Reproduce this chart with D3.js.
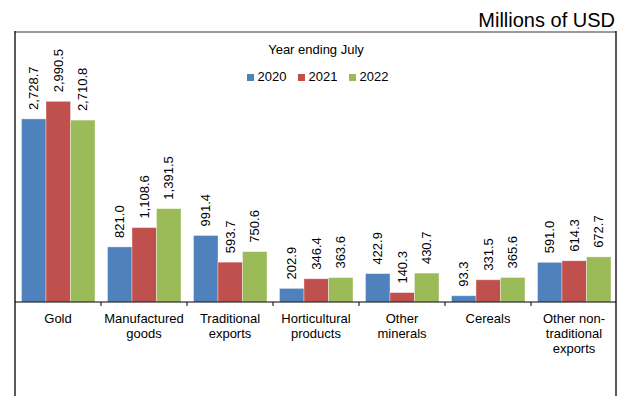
<!DOCTYPE html>
<html>
<head>
<meta charset="utf-8">
<script src="https://cdn.jsdelivr.net/npm/d3@7"></script>
<style>
  body { margin: 0; background: #fff; }
  text { font-family: "Liberation Sans", Arial, sans-serif; fill: #000; }
</style>
</head>
<body>
<svg width="627" height="396"></svg>
<script>
const categories = [
  "Gold",
  "Manufactured goods",
  "Traditional exports",
  "Horticultural products",
  "Other minerals",
  "Cereals",
  "Other non-traditional exports",
];
const categoryLines = [
  ["Gold"],
  ["Manufactured", "goods"],
  ["Traditional", "exports"],
  ["Horticultural", "products"],
  ["Other", "minerals"],
  ["Cereals"],
  ["Other non-", "traditional", "exports"],
];
const years = ["2020", "2021", "2022"];
const values2020 = [2728.7, 821.0, 991.4, 202.9, 422.9, 93.3, 591.0];
const values2021 = [2990.5, 1108.6, 593.7, 346.4, 140.3, 331.5, 614.3];
const values2022 = [2710.8, 1391.5, 750.6, 363.6, 430.7, 365.6, 672.7];
const colors = ["#4f81bd", "#c0504d", "#9bbb59"];

const svg = d3.select("svg");
const width = +svg.attr("width");
const height = +svg.attr("height");

const frame = { left: 15, right: 616, top: 32 };
const baseY = 302;

const series = [values2020, values2021, values2022];
const data = categories.map((c, i) => ({
  category: c,
  lines: categoryLines[i],
  values: years.map((y, j) => ({ year: y, value: series[j][i] })),
}));

const x0 = d3
  .scaleBand()
  .domain(categories)
  .range([frame.left, frame.right + 1]);
const x1 = d3
  .scaleBand()
  .domain(years)
  .range([6.5, x0.bandwidth() - 6]);
const yScale = d3
  .scaleLinear()
  .domain([0, 4000])
  .range([baseY, baseY - 4000 * 0.0671]);
const color = d3.scaleOrdinal().domain(years).range(colors);

// frame
svg.append("line")
  .attr("x1", frame.left).attr("x2", frame.right)
  .attr("y1", frame.top).attr("y2", frame.top)
  .attr("stroke", "#9a9a9a").attr("stroke-width", 2);
svg.append("line")
  .attr("x1", frame.left).attr("x2", frame.left)
  .attr("y1", frame.top - 1).attr("y2", height)
  .attr("stroke", "#000").attr("stroke-width", 1.3);
svg.append("line")
  .attr("x1", frame.right).attr("x2", frame.right)
  .attr("y1", frame.top - 1).attr("y2", height)
  .attr("stroke", "#000").attr("stroke-width", 1.3);

svg.append("text")
  .attr("x", 615)
  .attr("y", 27)
  .attr("text-anchor", "end")
  .style("font-size", "20px")
  .text("Millions of USD");

// bars
const groups = svg
  .selectAll("g.cat")
  .data(data)
  .join("g")
  .attr("class", "cat")
  .attr("transform", (d) => `translate(${x0(d.category)},0)`);

groups
  .selectAll("rect")
  .data((d) => d.values)
  .join("rect")
  .attr("x", (d) => x1(d.year))
  .attr("width", x1.bandwidth())
  .attr("y", (d) => yScale(d.value))
  .attr("height", (d) => baseY - yScale(d.value))
  .attr("fill", (d) => color(d.year))
  .attr("stroke", "rgba(255,255,255,0.45)")
  .attr("stroke-width", 0.8);

groups
  .selectAll("text.val")
  .data((d) => d.values)
  .join("text")
  .attr("class", "val")
  .attr(
    "transform",
    (d) =>
      `translate(${x1(d.year) + x1.bandwidth() / 2 + 4.5},${yScale(d.value) - 9}) rotate(-90)`
  )
  .style("font-size", "13px")
  .text((d) => d3.format(",.1f")(d.value));

// x axis
const xAxis = d3.axisBottom(x0).tickSize(0).tickFormat("");
const xAxisG = svg
  .append("g")
  .attr("transform", `translate(0,${baseY})`)
  .call(xAxis);
xAxisG.select(".domain")
  .attr("d", `M${frame.left},0H${frame.right}`)
  .attr("stroke", "#000")
  .attr("stroke-width", 1.2);

svg.append("g")
  .selectAll("line")
  .data(categories.slice(1))
  .join("line")
  .attr("x1", (d) => x0(d))
  .attr("x2", (d) => x0(d))
  .attr("y1", baseY)
  .attr("y2", baseY + 4)
  .attr("stroke", "#000");

const labels = svg
  .append("g")
  .selectAll("text")
  .data(data)
  .join("text")
  .attr("text-anchor", "middle")
  .style("font-size", "13px");
labels
  .selectAll("tspan")
  .data((d) => d.lines.map((l) => ({ line: l, cx: x0(d.category) + x0.bandwidth() / 2 })))
  .join("tspan")
  .attr("x", (d) => d.cx)
  .attr("y", (d, i) => 323 + i * 15)
  .text((d) => d.line);

// legend
svg.append("text")
  .attr("x", 316)
  .attr("y", 54)
  .attr("text-anchor", "middle")
  .style("font-size", "13px")
  .text("Year ending July");

const legend = svg
  .append("g")
  .selectAll("g")
  .data(years)
  .join("g")
  .attr("transform", (d, i) => `translate(${247 + i * 51},0)`);
legend.append("rect")
  .attr("y", 74)
  .attr("width", 7)
  .attr("height", 7)
  .attr("fill", (d) => color(d));
legend.append("text")
  .attr("x", 10.5)
  .attr("y", 81)
  .style("font-size", "13px")
  .text((d) => d);
</script>
</body>
</html>
